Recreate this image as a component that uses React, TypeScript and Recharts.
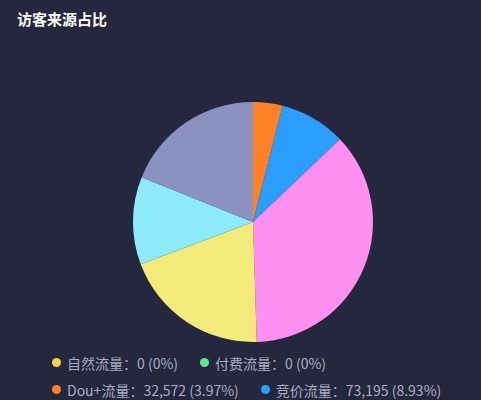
import React from 'react';
import { PieChart, Pie, Cell, Legend } from 'recharts';

const sourceNames = ['自然流量', '付费流量', 'Dou+流量', '竞价流量', '千川流量', '短视频引流', '直播推荐', '其他流量'];
const sourceValues = [0, 0, 32572, 73195, 300000, 162000, 97000, 155000];
const sourceColors = ['#f6d34a', '#5fe396', '#ff8126', '#2b9dfb', '#ff8ff0', '#f2ea7b', '#8ceaf9', '#8b91c1'];
// legend rows visible in the picture (the rest fall below the frame)
const visibleLegendCount = 4;

const total = sourceValues.reduce((a, b) => a + b, 0);
const data = sourceNames.map((name, i) => ({ name, value: sourceValues[i], color: sourceColors[i] }));

const fmtPct = (v: number) => `${parseFloat(((v / total) * 100).toFixed(2))}%`;

const renderLegend = () => (
  <div
    style={{
      display: 'flex',
      flexWrap: 'wrap',
      width: 420,
      fontFamily: '"Noto Sans CJK SC", "Noto Sans", sans-serif',
      fontSize: 14,
      color: '#a9acc2',
    }}
  >
    {data.slice(0, visibleLegendCount).map((d) => (
      <div
        key={d.name}
        style={{ display: 'flex', alignItems: 'center', height: 27, marginRight: 22, whiteSpace: 'nowrap' }}
      >
        <span
          style={{
            display: 'inline-block',
            width: 9,
            height: 9,
            borderRadius: '50%',
            background: d.color,
            marginRight: 6,
          }}
        />
        <span style={{ lineHeight: '16px' }}>{`${d.name}：${d.value.toLocaleString('en-US')} (${fmtPct(d.value)})`}</span>
      </div>
    ))}
  </div>
);

export default function App() {
  return (
    <div
      style={{
        position: 'fixed',
        left: 0,
        top: 0,
        width: 481,
        height: 400,
        overflow: 'hidden',
        background: '#25273f',
      }}
    >
      <div
        style={{
          position: 'absolute',
          left: 17,
          top: 8,
          fontFamily: '"Noto Sans CJK SC", sans-serif',
          fontWeight: 700,
          fontSize: 15,
          color: '#ffffff',
          lineHeight: '22px',
        }}
      >
        访客来源占比
      </div>
      <PieChart width={481} height={400} style={{ position: 'absolute', left: 0, top: 0 }}>
        <Pie
          data={data}
          dataKey="value"
          nameKey="name"
          cx={248}
          cy={217}
          outerRadius={120}
          startAngle={90}
          endAngle={-270}
          stroke="none"
          isAnimationActive={false}
        >
          {data.map((d) => (
            <Cell key={d.name} fill={d.color} stroke="none" />
          ))}
        </Pie>
        <Legend
          content={renderLegend}
          wrapperStyle={{ position: 'absolute', left: 52, top: 349, width: 420 }}
        />
      </PieChart>
    </div>
  );
}
